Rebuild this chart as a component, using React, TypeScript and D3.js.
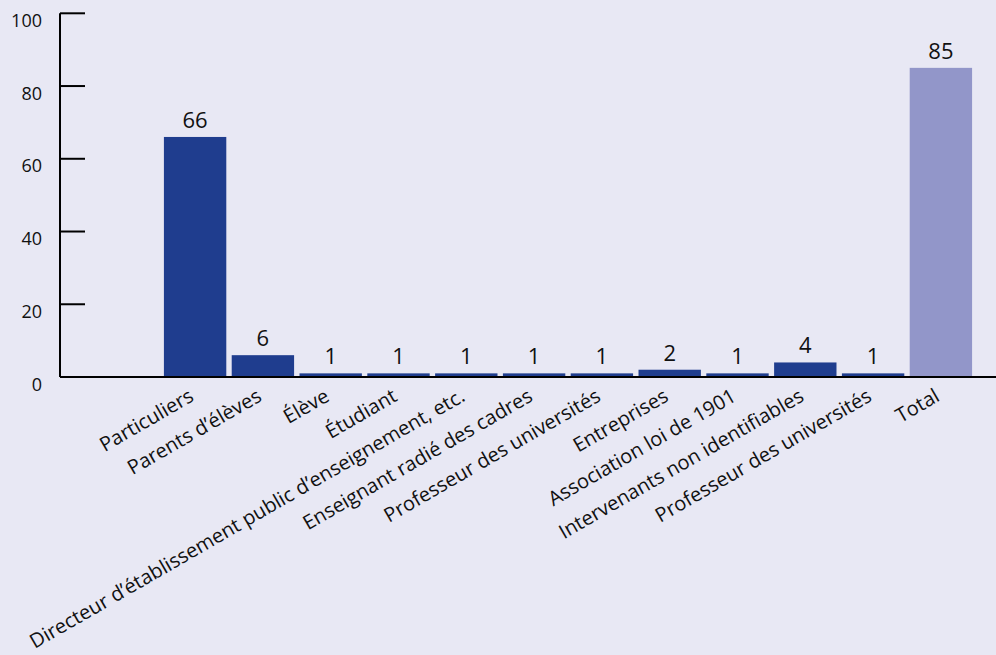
import React from "react";
import * as d3 from "d3";

const categories = [
  "Particuliers",
  "Parents d’élèves",
  "Élève",
  "Étudiant",
  "Directeur d’établissement public d’enseignement, etc.",
  "Enseignant radié des cadres",
  "Professeur des universités",
  "Entreprises",
  "Association loi de 1901",
  "Intervenants non identifiables",
  "Professeur des universités",
  "Total",
];
const values = [66, 6, 1, 1, 1, 1, 1, 2, 1, 4, 1, 85];
const yTicks = [0, 20, 40, 60, 80, 100];

const W = 996;
const H = 655;
const BG = "#e8e8f4";
const DARK = "#1f3d8e";
const LIGHT = "#9296c9";

export default function App() {
  const axisX = 60;
  const y = d3.scaleLinear().domain([0, 100]).range([377, 13.3]);
  const x = d3
    .scaleBand<number>()
    .domain(categories.map((_, i) => i))
    .range([161.2, 974.8])
    .paddingInner(0.08)
    .paddingOuter(0.04);

  return (
    <div style={{ position: "fixed", left: 0, top: 0 }}>
      <style>{`body{margin:0}`}</style>
      <svg width={W} height={H} style={{ display: "block", background: BG }}>
        <rect x={0} y={0} width={W} height={H} fill={BG} />
        {values.map((v, i) => (
          <rect
            key={"b" + i}
            x={x(i)!}
            y={y(v)}
            width={x.bandwidth()}
            height={y(0) - y(v)}
            fill={i === values.length - 1 ? LIGHT : DARK}
          />
        ))}
        {values.map((v, i) => (
          <text
            key={"v" + i}
            x={x(i)! + x.bandwidth() / 2}
            y={y(v) - 9}
            textAnchor="middle"
            fontFamily="'Open Sans', 'Noto Sans', sans-serif"
            fontSize={22}
            fill="#111"
          >
            {v}
          </text>
        ))}
        {/* y axis */}
        <line x1={axisX} x2={axisX} y1={y(100)} y2={y(0)} stroke="#000" strokeWidth={2} />
        {yTicks.map((t) => (
          <g key={"t" + t}>
            {t > 0 && (
              <line x1={axisX} x2={axisX + 25} y1={y(t)} y2={y(t)} stroke="#000" strokeWidth={2} />
            )}
            <text
              x={42}
              y={y(t) + 13.5}
              textAnchor="end"
              fontFamily="'Open Sans', 'Noto Sans', sans-serif"
              fontSize={18}
              fill="#111"
            >
              {t}
            </text>
          </g>
        ))}
        {/* x axis */}
        <line x1={axisX} x2={W} y1={y(0)} y2={y(0)} stroke="#000" strokeWidth={2} />
        {categories.map((c, i) => {
          const cx = x(i)! + x.bandwidth() / 2;
          const cy = 400;
          return (
            <text
              key={"l" + i}
              x={cx}
              y={cy}
              transform={`rotate(-30 ${cx} ${cy})`}
              textAnchor="end"
              fontFamily="'Open Sans', 'Noto Sans', sans-serif"
              fontSize={20}
              fill="#111"
            >
              {c}
            </text>
          );
        })}
      </svg>
    </div>
  );
}
